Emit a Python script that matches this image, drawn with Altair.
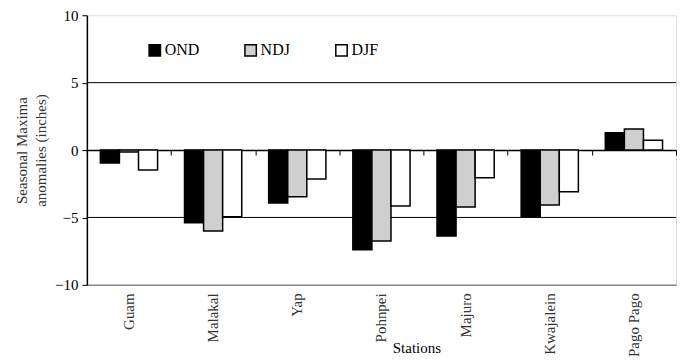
import altair as alt
import pandas as pd

stations = ["Guam", "Malakal", "Yap", "Pohnpei", "Majuro", "Kwajalein", "Pago Pago"]
seasons = ["OND", "NDJ", "DJF"]
ond = [-0.96, -5.4, -3.93, -7.4, -6.37, -4.94, 1.28]
ndj = [-0.15, -6.0, -3.46, -6.74, -4.22, -4.07, 1.57]
djf = [-1.48, -4.94, -2.15, -4.15, -2.05, -3.09, 0.72]
grid_levels = [5, -5]

rows = []
for i, s in enumerate(stations):
    for season, vals in zip(seasons, [ond, ndj, djf]):
        rows.append({"station": s, "season": season, "value": vals[i]})
df = pd.DataFrame(rows)
st_df = pd.DataFrame({"station": stations})

FONT = "Liberation Serif"
W, H = 590, 270

xscale = alt.Scale(domain=stations, paddingInner=0.32, paddingOuter=0.16)
yscale = alt.Scale(domain=[-10, 10])

grid = alt.Chart(pd.DataFrame({"g": grid_levels})).mark_rule(color="black", strokeWidth=1).encode(
    y=alt.Y("g:Q", scale=yscale,
            axis=alt.Axis(values=[-10, -5, 0, 5, 10], title=["Seasonal Maxima", "anomalies (inches)"],
                          grid=False, tickSize=5, tickColor="black", domainColor="black",
                          domainWidth=1.5, labelFont=FONT, labelFontSize=15, labelColor="black",
                          labelPadding=4, titleFont=FONT, titleFontSize=15, titleFontWeight="normal",
                          titleColor="#333", titleLineHeight=19, titlePadding=6)),
)

bars = alt.Chart(df).mark_bar(stroke="black", strokeWidth=1.5).encode(
    x=alt.X("station:N", scale=xscale, sort=stations,
            axis=alt.Axis(title="Stations", orient="bottom", labelAngle=-90, ticks=False,
                          domainColor="#888", domainWidth=1.5,
                          labelFont=FONT, labelFontSize=15, labelColor="#333", labelPadding=8,
                          titleFont=FONT, titleFontSize=15, titleFontWeight="normal",
                          titleColor="black", titlePadding=-16, titleX=330)),
    xOffset=alt.XOffset("season:N", sort=seasons, scale=alt.Scale(paddingInner=0, paddingOuter=0)),
    y=alt.Y("value:Q", scale=yscale),
    fill=alt.Fill("season:N", sort=seasons,
                  scale=alt.Scale(domain=seasons, range=["black", "#cfcfcf", "white"]),
                  legend=alt.Legend(title=None, orient="none", legendX=60, legendY=27,
                                    direction="horizontal", symbolType="square", symbolSize=130,
                                    symbolStrokeColor="black", symbolStrokeWidth=1.5,
                                    labelFont=FONT, labelFontSize=16, labelColor="black",
                                    columnPadding=42, labelOffset=2)),
)

zero_axis = alt.Chart(st_df).mark_text(text="", opacity=0).encode(
    x=alt.X("station:N", scale=alt.Scale(domain=stations, paddingInner=0, paddingOuter=0),
            sort=stations,
            axis=alt.Axis(title=None, labels=False, ticks=True, tickBand="extent",
                          tickSize=5, tickColor="black", domainColor="black",
                          domainWidth=1.5, offset=-H / 2, orient="bottom")),
)

chart = alt.layer(grid, bars, zero_axis).resolve_scale(x="independent").resolve_axis(
    x="independent"
).properties(
    width=W, height=H, padding={"left": 6, "top": 0, "right": 0, "bottom": 0}
).configure_view(stroke="#888", strokeWidth=1.5).configure(background="white")

chart.save("out.html", embed_options={"renderer": "svg", "actions": False})
